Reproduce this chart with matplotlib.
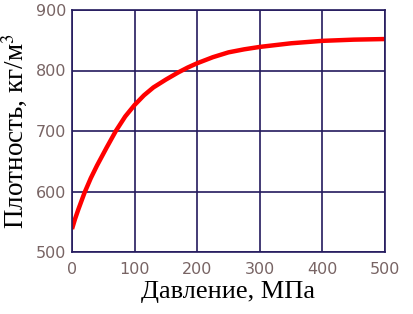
import matplotlib
matplotlib.use('Agg')
import matplotlib.pyplot as plt

plt.rcParams['mathtext.fontset'] = 'stix'

# Давление (МПа) и плотность (кг/м3)
pressure = [0, 5, 10, 20, 30, 40, 55, 70, 85, 100, 115, 130, 150, 170, 185,
            200, 225, 250, 275, 300, 350, 400, 450, 500]
density = [538, 555, 570, 598, 622, 643, 672, 700, 724, 743, 759, 772, 785, 797, 805,
           812, 822, 830, 835, 839, 845, 849, 851, 852]

x_ticks = [0, 100, 200, 300, 400, 500]
y_ticks = [500, 600, 700, 800, 900]

grid_color = '#241a5e'
tick_color = '#786464'

fig = plt.figure(figsize=(4.14, 3.14), dpi=100)
ax = fig.add_axes([72 / 414, 1 - 252 / 314, 313 / 414, 242 / 314])

ax.plot(pressure, density, color='#ff0000', linewidth=3.2,
        solid_capstyle='butt', solid_joinstyle='round')

ax.set_xlim(0, 500)
ax.set_ylim(500, 900)
ax.set_xticks(x_ticks)
ax.set_yticks(y_ticks)
ax.grid(True, color=grid_color, linewidth=1.2)
for s in ax.spines.values():
    s.set_color(grid_color)
    s.set_linewidth(1.2)
ax.tick_params(length=0, pad=4, colors=tick_color, labelsize=11.5)
ax.tick_params(axis='x', pad=7)

ax.set_xlabel('Давление, МПа', family='Liberation Serif', fontsize=19, labelpad=3)
ax.set_ylabel('Плотность, кг/м$^{3}$', family='Liberation Serif', fontsize=19.5, labelpad=4)

fig.savefig('out.png', dpi=100)
